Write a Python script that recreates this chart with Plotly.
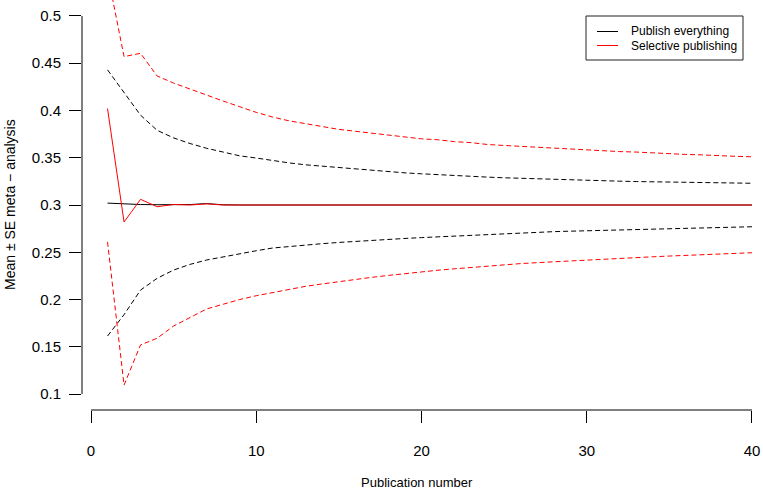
import plotly.graph_objects as go

# publication index
pub_n = list(range(1, 41))

# running mean of the meta-analysis, publish everything
all_mean = [0.302, 0.301, 0.3005, 0.3003, 0.3002, 0.3005, 0.3015, 0.3002, 0.3, 0.3,
            0.3, 0.3, 0.3, 0.3, 0.3, 0.3, 0.3, 0.3, 0.3, 0.3,
            0.3, 0.3005, 0.3005, 0.3, 0.3, 0.3, 0.3, 0.3, 0.3, 0.3,
            0.3, 0.3, 0.3, 0.3, 0.3, 0.3, 0.3, 0.3, 0.3, 0.3]
all_upper = [0.443, 0.419, 0.395, 0.379, 0.371, 0.365, 0.360, 0.356, 0.352, 0.3497,
             0.3468, 0.3445, 0.3425, 0.341, 0.3395, 0.338, 0.3365, 0.3352, 0.334, 0.333,
             0.332, 0.331, 0.3302, 0.3295, 0.3288, 0.3282, 0.3276, 0.327, 0.3265, 0.326,
             0.3256, 0.3252, 0.3248, 0.3245, 0.3242, 0.3239, 0.3236, 0.3234, 0.3232, 0.323]
all_lower = [0.1614, 0.184, 0.210, 0.2224, 0.2312, 0.2372, 0.2418, 0.2453, 0.2489, 0.2516,
             0.2545, 0.2562, 0.2577, 0.2591, 0.2604, 0.2616, 0.2627, 0.2637, 0.2646, 0.2655,
             0.2663, 0.2671, 0.268, 0.2688, 0.2697, 0.2707, 0.2713, 0.2718, 0.2723, 0.2728,
             0.2733, 0.2737, 0.2741, 0.2745, 0.2749, 0.2753, 0.2757, 0.2761, 0.2765, 0.277]

# selective publishing
sel_mean = [0.402, 0.282, 0.306, 0.2982, 0.3005, 0.3, 0.3012, 0.3, 0.3, 0.3,
            0.3, 0.3, 0.3, 0.3, 0.3, 0.3, 0.3, 0.3, 0.3, 0.3,
            0.3, 0.3, 0.3005, 0.3, 0.3, 0.3, 0.3, 0.3, 0.3, 0.3,
            0.3, 0.3, 0.3, 0.3, 0.3, 0.3, 0.3, 0.3, 0.3, 0.3]
sel_upper = [0.545, 0.457, 0.4605, 0.4365, 0.429, 0.4225, 0.416, 0.410, 0.404, 0.398,
             0.393, 0.389, 0.386, 0.383, 0.380, 0.378, 0.376, 0.374, 0.372, 0.370,
             0.369, 0.367, 0.366, 0.364, 0.363, 0.362, 0.361, 0.360, 0.359, 0.358,
             0.357, 0.3565, 0.356, 0.355, 0.354, 0.3535, 0.353, 0.352, 0.3515, 0.351]
sel_lower = [0.261, 0.1095, 0.152, 0.159, 0.172, 0.181, 0.190, 0.195, 0.200, 0.204,
             0.2075, 0.211, 0.214, 0.2165, 0.219, 0.221, 0.2235, 0.2255, 0.2275, 0.229,
             0.231, 0.2325, 0.234, 0.2355, 0.237, 0.238, 0.239, 0.240, 0.241, 0.242,
             0.243, 0.2438, 0.2445, 0.2452, 0.246, 0.2467, 0.2474, 0.248, 0.2487, 0.2495]

x_ticks = [0, 10, 20, 30, 40]
y_ticks = [0.1, 0.15, 0.2, 0.25, 0.3, 0.35, 0.4, 0.45, 0.5]
y_labels = ["0.1", "0.15", "0.2", "0.25", "0.3", "0.35", "0.4", "0.45", "0.5"]
legend_names = ["Publish everything", "Selective publishing"]
legend_colors = ["black", "red"]

W, H = 763, 490
FONT = "Liberation Sans, Arial, sans-serif"
DASH = "5px,3px"


def px(x):
    return x / W


def py(y):
    return 1 - y / H


fig = go.Figure()

for y, color, dash in [
    (all_upper, "black", DASH),
    (all_lower, "black", DASH),
    (sel_upper, "red", DASH),
    (sel_lower, "red", DASH),
    (all_mean, "black", "solid"),
    (sel_mean, "red", "solid"),
]:
    fig.add_trace(go.Scatter(
        x=pub_n, y=y, mode="lines", showlegend=False,
        line=dict(color=color, width=1, dash=dash),
    ))

# R style axes: line only spans first to last tick
fig.add_shape(type="line", xref="paper", yref="y", x0=px(82), x1=px(82),
              y0=y_ticks[0], y1=y_ticks[-1], line=dict(color="black", width=1))
fig.add_shape(type="line", xref="x", yref="paper", x0=x_ticks[0], x1=x_ticks[-1],
              y0=py(410), y1=py(410), line=dict(color="black", width=1))

fig.add_annotation(text="Publication number", xref="paper", yref="paper",
                   x=px(417), y=py(482), xanchor="center", yanchor="middle",
                   showarrow=False, font=dict(family=FONT, size=13, color="black"))
fig.add_annotation(text="Mean \u00b1 SE meta \u2212 analysis", xref="paper", yref="paper",
                   x=px(10), y=py(205), xanchor="center", yanchor="middle",
                   showarrow=False, textangle=-90,
                   font=dict(family=FONT, size=14, color="black"))

# legend box drawn like R's legend()
fig.add_shape(type="rect", xref="paper", yref="paper",
              x0=px(586), x1=px(743), y0=py(60), y1=py(16),
              line=dict(color="#222", width=1), fillcolor="white", layer="above")
for i, (name, color) in enumerate(zip(legend_names, legend_colors)):
    yy = 31.5 + 14 * i
    fig.add_shape(type="line", xref="paper", yref="paper",
                  x0=px(597), x1=px(618), y0=py(yy), y1=py(yy),
                  line=dict(color=color, width=1), layer="above")
    fig.add_annotation(text=name, xref="paper", yref="paper",
                       x=px(629), y=py(yy), xanchor="left", yanchor="middle",
                       showarrow=False, font=dict(family=FONT, size=12, color="black"))

fig.update_layout(
    width=W, height=H,
    margin=dict(l=0, r=0, t=0, b=0),
    paper_bgcolor="white", plot_bgcolor="white",
    font=dict(family=FONT, size=15, color="black"),
    showlegend=False,
    xaxis=dict(domain=[px(82), 1], range=[-0.5446, 40.666],
               tickvals=x_ticks, ticks="outside", ticklen=12, tickcolor="black",
               ticklabelstandoff=15, showgrid=False, zeroline=False, showline=False,
               tickfont=dict(size=15)),
    yaxis=dict(domain=[py(410), 1], range=[0.0831, 0.5169],
               tickvals=y_ticks, ticktext=y_labels, ticks="outside", ticklen=12,
               tickcolor="black", ticklabelstandoff=5, showgrid=False,
               zeroline=False, showline=False, tickfont=dict(size=15)),
)

# the page body has a default 8px margin; drop it so the figure fills the window
fig.write_html("out.html", config={"displayModeBar": False},
               post_script="document.body.style.margin='0';")
